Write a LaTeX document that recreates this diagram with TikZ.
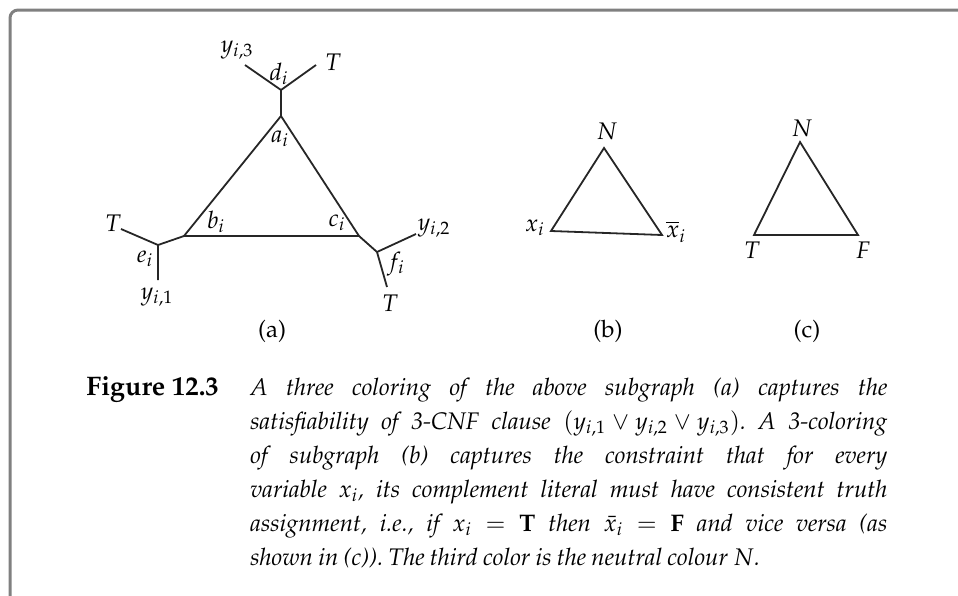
\documentclass[tikz,border=0pt]{standalone}
\usepackage{mathpazo}
\usepackage[T1]{fontenc}
\usetikzlibrary{positioning}

\begin{document}
\begin{tikzpicture}[x=0.5pt,y=-0.5pt,
  edge/.style={line width=0.9pt, black!85},
  lbl/.style={inner sep=0pt, font=\fontsize{12}{14}\selectfont},
  frame/.style={line width=1.5pt, black!50, rounded corners=4pt}]
\useasboundingbox (0,0) rectangle (958,595);
% Frame
\coordinate (f1) at (10,605);
\coordinate (f2) at (10,10);
\coordinate (f3) at (965,10);
\draw[frame] (f1) -- (f2) -- (f3);
% (a) clause gadget
\coordinate (a) at (281,116);
\coordinate (b) at (184,236);
\coordinate (c) at (359,236);
\coordinate (d) at (281,90);
\coordinate (e) at (158,245);
\coordinate (f) at (377,252);
\coordinate (dy) at (245,65);
\coordinate (dT) at (316,65);
\coordinate (eT) at (121,229);
\coordinate (ey) at (158,280);
\coordinate (fy) at (416,234);
\coordinate (fT) at (387,287);
\draw[edge] (a) -- (b) -- (c) -- cycle;
\draw[edge] (a) -- (d) (dy) -- (d) -- (dT);
\draw[edge] (b) -- (e) (eT) -- (e) -- (ey);
\draw[edge] (c) -- (f) (fy) -- (f) -- (fT);
\node[lbl] (ly3) at (237,50) {$y_{i,3}$};
\node[lbl] (ldT) at (333,62) {$T$};
\node[lbl] (ld) at (279,74) {$d_i$};
\node[lbl] (la) at (280,139) {$a_i$};
\node[lbl] (lb) at (216,222) {$b_i$};
\node[lbl] (lc) at (337,223) {$c_i$};
\node[lbl] (leT) at (113,223) {$T$};
\node[lbl] (le) at (145,259) {$e_i$};
\node[lbl] (ly1) at (157,297) {$y_{i,1}$};
\node[lbl] (ly2) at (434,228) {$y_{i,2}$};
\node[lbl] (lf) at (396,264) {$f_i$};
\node[lbl] (lfT) at (390,303) {$T$};
\node[lbl] (capa) at (272,331) {(a)};
% (b) literal gadget
\coordinate (bN) at (604,148);
\coordinate (bx) at (551,231);
\coordinate (bxb) at (662,235);
\draw[edge] (bN) -- (bx) -- (bxb) -- cycle;
\node[lbl] (lbN) at (607,131) {$N$};
\node[lbl] (lbx) at (535,228) {$x_i$};
\node[lbl] (lbxb) at (676,232) {$\overline{x}_i$};
\node[lbl] (capb) at (608,331) {(b)};
% (c) colour palette
\coordinate (cN) at (800,142);
\coordinate (cT) at (754,235);
\coordinate (cF) at (858,235);
\draw[edge] (cN) -- (cT) -- (cF) -- cycle;
\node[lbl] (lcN) at (802,128) {$N$};
\node[lbl] (lcT) at (752,250) {$T$};
\node[lbl] (lcF) at (863,250) {$F$};
\node[lbl] (capc) at (807,331) {(c)};
% Caption
\node[inner sep=0pt, anchor=base west, font=\fontsize{13.4}{16}\selectfont\bfseries]
  (fignum) at (86,395) {Figure 12.3};
\node[inner sep=0pt, anchor=base west, text width=318.5pt, align=justify,
  font=\fontsize{12}{17}\selectfont\itshape] (caption) at (250,395)
  {\frenchspacing\spaceskip=0.22em plus 0.3em minus 0.1em\relax
   A three coloring of the above subgraph (a) captures the\linebreak
   satisfiability of 3-CNF clause $(y_{i,1}\vee y_{i,2}\vee y_{i,3})$. A 3-coloring\linebreak
   of subgraph (b) captures the constraint that for every\linebreak
   variable $x_i$, its complement literal must have consistent truth\linebreak
   assignment, i.e., if $x_i=\mathbf{T}$ then $\bar{x}_i=\mathbf{F}$ and vice versa (as\linebreak
   shown in (c)). The third color is the neutral colour $N$.};
\end{tikzpicture}
\end{document}
